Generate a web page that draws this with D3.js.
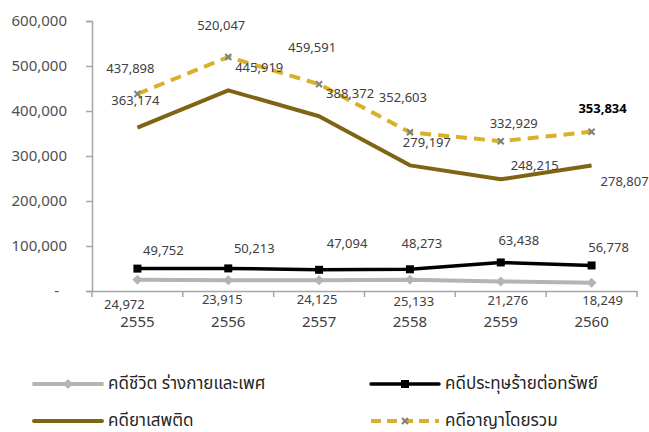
<!DOCTYPE html>
<html>
<head>
<meta charset="utf-8">
<script src="https://cdn.jsdelivr.net/npm/d3@7/dist/d3.min.js"></script>
<style>
  html, body { margin: 0; padding: 0; background: #fff; }
  svg { display: block; font-family: "Noto Sans", "Noto Sans Thai", sans-serif; }
</style>
</head>
<body>
<svg id="chart" width="649" height="432"></svg>
<script>
const years = ["2555", "2556", "2557", "2558", "2559", "2560"];
const lifeCases = [24972, 23915, 24125, 25133, 21276, 18249];
const propertyCases = [49752, 50213, 47094, 48273, 63438, 56778];
const drugCases = [363174, 445919, 388372, 279197, 248215, 278807];
const totalCases = [437898, 520047, 459591, 352603, 332929, 353834];
const yTicks = [0, 100000, 200000, 300000, 400000, 500000, 600000];
const seriesNames = ["คดีชีวิต ร่างกายและเพศ", "คดีประทุษร้ายต่อทรัพย์", "คดียาเสพติด", "คดีอาญาโดยรวม"];

// label offsets (styling)
const lifeOff = [[-13, 29], [-6, 24], [-2, 24], [4, 26], [7, 24], [11, 22]];
const propOff = [[26, -14], [26, -15], [28, -22], [12, -21], [18, -17], [17, -13]];
const drugOff = [[-2, -23], [31, -18], [31, -18], [17, -18], [34, -9], [33, 20]];
const totalOff = [[-7, -21], [-7, -27], [-7, -32], [-7, -30], [13, -13], [11, -19]];

const svg = d3.select("#chart");
const x = d3.scaleBand().domain(years).range([92, 637]);
const y = d3.scaleLinear().domain([0, 600000]).range([291, 21]);
const cx = d => x(d) + x.bandwidth() / 2;
const fmt = d3.format(",");

// Y axis
const yAxis = d3.axisLeft(y).tickValues(yTicks).tickSize(6)
  .tickFormat(d => d === 0 ? "-" : fmt(d));
const gy = svg.append("g").attr("transform", "translate(92,0)").call(yAxis);
gy.select(".domain").attr("stroke", "#a6a6a6").attr("stroke-width", 1.5);
gy.selectAll(".tick line").attr("stroke", "#a6a6a6").attr("stroke-width", 1.5);
gy.selectAll(".tick text").attr("font-size", 15).attr("fill", "#505050")
  .attr("font-family", "'Noto Sans', sans-serif").attr("x", -25)
  .filter(d => d === 0).attr("x", -33);

// X axis
const xAxis = d3.axisBottom(x).tickSize(0).tickFormat("");
const gx = svg.append("g").attr("transform", "translate(0,291)").call(xAxis);
gx.select(".domain").attr("stroke", "#a6a6a6").attr("stroke-width", 1.5);
const bounds = years.map(d => x(d)).concat([x.range()[1]]);
gx.selectAll("line.sep").data(bounds).enter().append("line")
  .attr("x1", d => d).attr("x2", d => d).attr("y1", 0).attr("y2", 6)
  .attr("stroke", "#a6a6a6").attr("stroke-width", 1.5);
svg.append("g").selectAll("text").data(years).enter().append("text")
  .attr("x", d => cx(d)).attr("y", 327).attr("text-anchor", "middle")
  .attr("font-size", 15).attr("fill", "#404040").text(d => d);

const line = d3.line().x((d, i) => cx(years[i])).y(d => y(d));

function drawSeries(vals, color, width, dash) {
  svg.append("path").datum(vals).attr("d", line).attr("fill", "none")
    .attr("stroke", color).attr("stroke-width", width)
    .attr("stroke-dasharray", dash || null).attr("stroke-linejoin", "round");
}
function labels(vals, off, boldLast) {
  svg.append("g").selectAll("text").data(vals).enter().append("text")
    .attr("x", (d, i) => cx(years[i]) + off[i][0])
    .attr("y", (d, i) => y(d) + off[i][1])
    .attr("text-anchor", "middle").attr("font-size", 13)
    .attr("fill", (d, i) => (boldLast && i === vals.length - 1) ? "#000" : "#404040")
    .attr("font-weight", (d, i) => (boldLast && i === vals.length - 1) ? "bold" : "normal")
    .text(d => fmt(d));
}
function diamond(g, px, py, s, color) {
  g.append("path").attr("d", `M${px},${py - s}L${px + s},${py}L${px},${py + s}L${px - s},${py}Z`).attr("fill", color);
}
function square(g, px, py, s, color) {
  g.append("rect").attr("x", px - s).attr("y", py - s).attr("width", 2 * s).attr("height", 2 * s).attr("fill", color);
}
function cross(g, px, py, s, color) {
  g.append("path").attr("d", `M${px - s},${py - s}L${px + s},${py + s}M${px - s},${py + s}L${px + s},${py - s}`)
    .attr("stroke", color).attr("stroke-width", 2);
}

const cLife = "#b4b4b4", cProp = "#000000", cDrug = "#7f6413", cTotal = "#d8b02a", cX = "#808080";

drawSeries(lifeCases, cLife, 4);
const gL = svg.append("g");
lifeCases.forEach((v, i) => diamond(gL, cx(years[i]), y(v), 5, cLife));

drawSeries(propertyCases, cProp, 3.5);
const gP = svg.append("g");
propertyCases.forEach((v, i) => square(gP, cx(years[i]), y(v), 4, cProp));

drawSeries(drugCases, cDrug, 4);

drawSeries(totalCases, cTotal, 4, "11,7");
const gT = svg.append("g");
totalCases.forEach((v, i) => cross(gT, cx(years[i]), y(v), 3, cX));

labels(lifeCases, lifeOff);
labels(propertyCases, propOff);
labels(drugCases, drugOff);
labels(totalCases, totalOff, true);

// Legend
const legend = svg.append("g");
const legItems = [
  { name: seriesNames[0], lx: 34, ly: 384, color: cLife, w: 4, marker: "diamond" },
  { name: seriesNames[1], lx: 371, ly: 384, color: cProp, w: 3.5, marker: "square" },
  { name: seriesNames[2], lx: 34, ly: 421, color: cDrug, w: 4, marker: null },
  { name: seriesNames[3], lx: 371, ly: 421, color: cTotal, w: 4, marker: "cross", dash: "10,6" }
];
legItems.forEach(it => {
  legend.append("line").attr("x1", it.lx).attr("x2", it.lx + 68).attr("y1", it.ly).attr("y2", it.ly)
    .attr("stroke", it.color).attr("stroke-width", it.w).attr("stroke-dasharray", it.dash || null)
    .attr("stroke-linecap", it.dash ? "butt" : "round");
  const mx = it.lx + 34;
  if (it.marker === "diamond") diamond(legend, mx, it.ly, 5, it.color);
  if (it.marker === "square") square(legend, mx, it.ly, 4, it.color);
  if (it.marker === "cross") cross(legend, mx, it.ly, 3, cX);
  legend.append("text").attr("x", it.lx + 74).attr("y", it.ly + 5)
    .attr("font-size", 17).attr("fill", "#262626").text(it.name);
});
</script>
</body>
</html>
